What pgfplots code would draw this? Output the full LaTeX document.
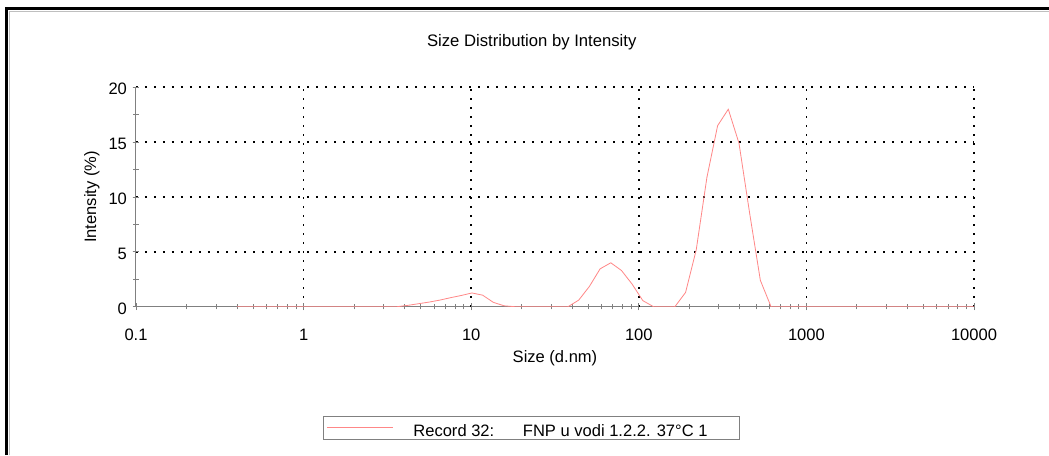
\documentclass[border=0pt]{standalone}
\usepackage{fontspec}
\setmainfont{Liberation Sans}
\usepackage{pgfplots}
\usepackage{pgfplotstable}
\pgfplotsset{compat=1.18}
\definecolor{curve}{RGB}{255,135,135}
\definecolor{axgray}{RGB}{128,128,128}

% size classes (d.nm) and intensity (%)
\pgfplotstableread{
size intensity
0.4 0
0.4632 0
0.5365 0
0.6213 0
0.7195 0
0.8332 0
0.9649 0
1.117 0
1.294 0
1.499 0
1.736 0
2.010 0
2.328 0
2.696 0
3.122 0
3.615 0
4.187 0.12
4.849 0.27
5.615 0.42
6.503 0.6
7.531 0.82
8.721 1.02
10.10 1.25
11.70 1.05
13.54 0.4
15.69 0.08
18.17 0
21.04 0
24.36 0
28.21 0
32.67 0
37.84 0
43.82 0.6
50.75 1.85
58.77 3.45
68.06 4.0
78.82 3.3
91.28 2.05
105.7 0.55
122.4 0
141.8 0
164.2 0
190.1 1.3
220.2 5.2
255.0 11.8
295.3 16.5
342.0 18.0
396.1 14.9
458.7 8.5
531.2 2.4
615.1 0
712.4 0
825.0 0
955.4 0
1106 0
1281 0
1484 0
1718 0
1990 0
2305 0
2669 0
3091 0
3580 0
4145 0
4801 0
5560 0
6439 0
7456 0
8635 0
10000 0
}\record

\begin{document}
\fontsize{12.4}{15}\selectfont
\begin{tikzpicture}
\useasboundingbox (0,0) rectangle (786.75pt,-341.25pt);
\fill[white] (0,0) rectangle (786.75pt,-341.25pt);
\draw[line width=2.25pt] (4.9pt,-341.25pt) -- (4.9pt,-6pt) -- (786.75pt,-6pt);
\draw[gray!50, line width=0.75pt] (7.2pt,-341.25pt) -- (7.2pt,-8.3pt) -- (786.75pt,-8.3pt);
\begin{axis}[
    at={(102pt,-230pt)}, anchor=south west,
    scale only axis, width=628.5pt, height=164.55pt,
    xmode=log, xmin=0.1, xmax=10000, ymin=0, ymax=20,
    axis x line*=bottom, axis y line*=left,
    axis line style={axgray, line width=0.75pt},
    xtick={0.1,1,10,100,1000,10000},
    xticklabels={0.1,1,10,100,1000,10000},
    minor xtick={0.2,0.3,0.4,0.5,0.6,0.7,0.8,0.9,2,3,4,5,6,7,8,9,20,30,40,50,60,70,80,90,200,300,400,500,600,700,800,900,2000,3000,4000,5000,6000,7000,8000,9000},
    ytick={0,5,10,15,20},
    minor ytick={2.5,7.5,12.5,17.5},
    tick style={axgray, line width=0.6pt},
    tick align=center,
    major tick length=5pt, minor tick length=4pt,
    extra x ticks={1,10,100,1000,10000}, extra x tick labels={},
    extra x tick style={grid=major},
    extra y ticks={5,10,15,20}, extra y tick labels={},
    extra y tick style={grid=major},
    major grid style={black, line width=1.25pt, dash pattern=on 1.25pt off 5.5pt},
    /pgf/number format/assume math mode=true,
    xticklabel style={anchor=base, yshift=-23pt},
    yticklabel style={anchor=east, yshift=-1.5pt},
    title={Size Distribution by Intensity},
    title style={at={(axis description cs:0.4722,1.1486)}, anchor=base, font=\fontsize{12.5}{15}\selectfont},
    xlabel={Size (d.nm)},
    xlabel style={at={(axis description cs:0.5,-0.2566)}, anchor=base},
    ylabel={Intensity (\%)},
    ylabel style={at={(axis description cs:-0.0477,0.5)}, anchor=base},
    legend style={at={(axis description cs:0.4716,-0.5515)}, anchor=center,
        draw=axgray, line width=0.75pt, inner xsep=2.5pt, inner ysep=0pt,
        nodes={inner ysep=0pt}},
    legend cell align=left,
    legend image code/.code={\draw[#1] (0pt,0pt) -- (49.5pt,0pt); \path (62.6pt,0pt);},
]
\addplot[curve, line width=0.6pt] table[x=size, y=intensity] {\record};
\addlegendentry{\rule[-4.5pt]{0pt}{20pt}\makebox[239.9pt][l]{Record 32:\hspace*{21.5pt}FNP u vodi 1.2.2. 37°C 1}}
\end{axis}
\end{tikzpicture}
\end{document}
